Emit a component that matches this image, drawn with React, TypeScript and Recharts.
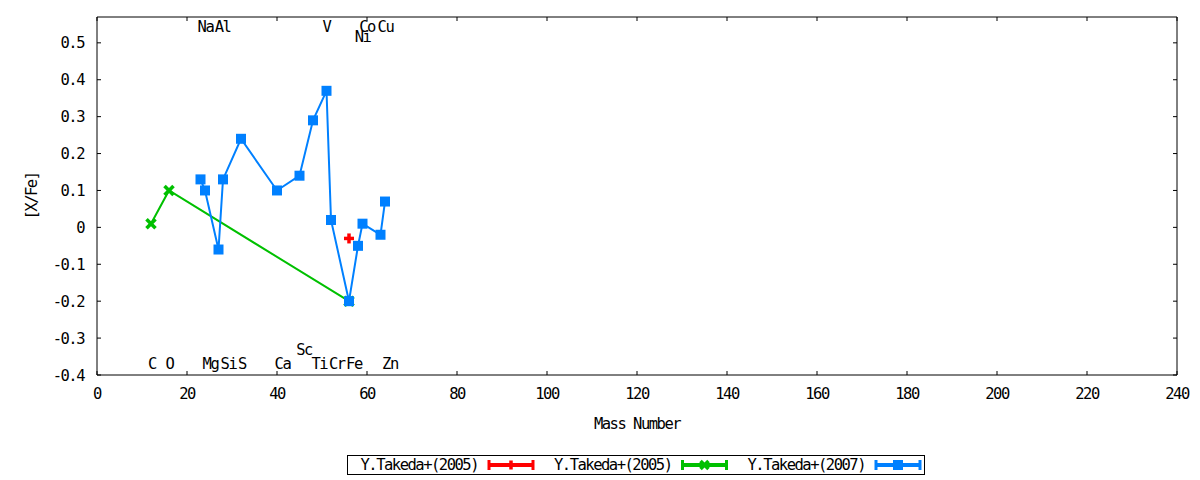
import { Scatter, ScatterChart, XAxis, YAxis } from 'recharts';

// [X/Fe] vs mass number, three abundance sets
const RED_MASS = [56];
const RED_XFE = [-0.03];
const GREEN_MASS = [12, 16, 56];
const GREEN_XFE = [0.01, 0.1, -0.2];
const BLUE_MASS = [23, 24, 27, 28, 32, 40, 45, 48, 51, 52, 56, 58, 59, 63, 64];
const BLUE_XFE = [0.13, 0.1, -0.06, 0.13, 0.24, 0.1, 0.14, 0.29, 0.37, 0.02, -0.2, -0.05, 0.01, -0.02, 0.07];

// element name labels placed in data coordinates
const LABEL_NAMES = ['C', 'O', 'Mg', 'Si', 'S', 'Ca', 'Sc', 'Ti', 'Cr', 'Fe', 'Zn', 'Na', 'Al', 'V', 'Co', 'Cu', 'Ni'];
const LABEL_X = [12.2, 16.1, 25.2, 29.2, 32.2, 41.2, 46.0, 49.4, 53.3, 57.1, 65.1, 24.1, 27.9, 51.0, 60.0, 64.1, 59.0];
const LABEL_Y = [-0.368, -0.368, -0.368, -0.368, -0.368, -0.368, -0.33, -0.368, -0.368, -0.368, -0.368, 0.544, 0.544, 0.544, 0.544, 0.544, 0.517];

const X_TICKS = [0, 20, 40, 60, 80, 100, 120, 140, 160, 180, 200, 220, 240];
const Y_TICKS = [-0.4, -0.3, -0.2, -0.1, 0, 0.1, 0.2, 0.3, 0.4, 0.5];

const LEGEND_LABELS = ['Y.Takeda+(2005)', 'Y.Takeda+(2005)', 'Y.Takeda+(2007)'];

const RED = '#ff0000';
const GREEN = '#00c000';
const BLUE = '#0080ff';
const FONT = "'DejaVu Sans Mono', monospace";
const TXT = { fontFamily: FONT, fontSize: 15.5, letterSpacing: -1.5, fill: '#000' };

const toPoints = (xs: number[], ys: number[]) => xs.map((x, i) => ({ x, y: ys[i] }));
const redData = toPoints(RED_MASS, RED_XFE);
const greenData = toPoints(GREEN_MASS, GREEN_XFE);
const blueData = toPoints(BLUE_MASS, BLUE_XFE);
const labelData = LABEL_NAMES.map((el, i) => ({ x: LABEL_X[i], y: LABEL_Y[i], el }));

const fmtY = (v: number) => (v === 0 ? '0' : v.toFixed(1));

function Plus({ cx, cy, color, r = 5 }: any) {
  return (
    <g stroke={color} strokeWidth={3.5}>
      <line x1={cx - r} x2={cx + r} y1={cy} y2={cy} />
      <line x1={cx} x2={cx} y1={cy - r} y2={cy + r} />
    </g>
  );
}

function Cross({ cx, cy, color, r = 4.5 }: any) {
  return (
    <g stroke={color} strokeWidth={3.5}>
      <line x1={cx - r} x2={cx + r} y1={cy - r} y2={cy + r} />
      <line x1={cx - r} x2={cx + r} y1={cy + r} y2={cy - r} />
    </g>
  );
}

function Square({ cx, cy, color, s = 10 }: any) {
  return <rect x={cx - s / 2} y={cy - s / 2} width={s} height={s} fill={color} />;
}

const bottomTick = ({ x, y, payload }: any) => (
  <g>
    <line x1={x} x2={x} y1={y} y2={y - 4} stroke="#000" />
    <text x={x} y={y + 24} textAnchor="middle" {...TXT}>
      {payload.value}
    </text>
  </g>
);
const topTick = ({ x, y }: any) => <line x1={x} x2={x} y1={y} y2={y + 4} stroke="#000" />;
const leftTick = ({ x, y, payload }: any) => (
  <g>
    <line x1={x} x2={x + 4} y1={y} y2={y} stroke="#000" />
    <text x={x - 13} y={y + 5.5} textAnchor="end" {...TXT}>
      {fmtY(payload.value)}
    </text>
  </g>
);
const rightTick = ({ x, y }: any) => <line x1={x} x2={x - 4} y1={y} y2={y} stroke="#000" />;

const MARKERS = [
  (cx: number, cy: number) => <Plus cx={cx} cy={cy} color={RED} r={4.5} />,
  (cx: number, cy: number) => <Cross cx={cx} cy={cy} color={GREEN} r={4} />,
  (cx: number, cy: number) => <Square cx={cx} cy={cy} color={BLUE} />,
];
const COLORS = [RED, GREEN, BLUE];

function KeyBox() {
  return (
    <svg width={580} height={22} style={{ position: 'absolute', left: 346, top: 454 }}>
      <rect x={1.5} y={1.5} width={577} height={19} fill="#fff" stroke="#000" />
      {LEGEND_LABELS.map((label, i) => {
        const end = 132 + i * 193.5;
        const x0 = end + 11;
        const x1 = x0 + 44;
        const cy = 11;
        return (
          <g key={i}>
            <text x={end} y={cy + 5} textAnchor="end" {...TXT}>
              {label}
            </text>
            <g stroke={COLORS[i]} strokeWidth={4}>
              <line x1={x0} x2={x1} y1={cy} y2={cy} />
            </g>
            <g stroke={COLORS[i]} strokeWidth={3}>
              <line x1={x0} x2={x0} y1={cy - 5} y2={cy + 5} />
              <line x1={x1} x2={x1} y1={cy - 5} y2={cy + 5} />
            </g>
            {MARKERS[i]((x0 + x1) / 2, cy)}
          </g>
        );
      })}
    </svg>
  );
}

export default function App() {
  return (
    <div style={{ position: 'absolute', left: 0, top: 0, width: 1200, height: 480, background: '#fff' }}>
      <ScatterChart width={1200} height={480} margin={{ top: 16, right: 22, bottom: 0, left: 0 }}>
        <XAxis
          dataKey="x"
          type="number"
          domain={[0, 240]}
          ticks={X_TICKS}
          allowDataOverflow
          height={105}
          tickSize={0}
          tickMargin={0}
          tick={bottomTick}
          axisLine={{ stroke: '#000' }}
          tickLine={false}
          label={{ value: 'Mass Number', position: 'insideTop', offset: 43, style: { ...TXT } }}
        />
        <XAxis
          xAxisId="top"
          orientation="top"
          dataKey="x"
          type="number"
          domain={[0, 240]}
          ticks={X_TICKS}
          allowDataOverflow
          height={1}
          tickSize={0}
          tickMargin={0}
          tick={topTick}
          axisLine={{ stroke: '#000' }}
          tickLine={false}
        />
        <YAxis
          dataKey="y"
          type="number"
          domain={[-0.4, 0.57]}
          ticks={Y_TICKS}
          allowDataOverflow
          width={97}
          tickSize={0}
          tickMargin={0}
          tick={leftTick}
          axisLine={{ stroke: '#000' }}
          tickLine={false}
          label={{ value: '[X/Fe]', angle: -90, position: 'insideLeft', offset: 31, style: { ...TXT, textAnchor: 'middle' } }}
        />
        <YAxis
          yAxisId="right"
          orientation="right"
          dataKey="y"
          type="number"
          domain={[-0.4, 0.57]}
          ticks={Y_TICKS}
          allowDataOverflow
          width={1}
          tickSize={0}
          tickMargin={0}
          tick={rightTick}
          axisLine={{ stroke: '#000' }}
          tickLine={false}
        />
        {/* invisible series so the mirrored axes get drawn */}
        <Scatter
          xAxisId="top"
          yAxisId="right"
          data={redData}
          isAnimationActive={false}
          legendType="none"
          shape={() => <g />}
        />
        <Scatter
          data={labelData}
          isAnimationActive={false}
          legendType="none"
          shape={(p: any) => (
            <text x={p.cx} y={p.cy + 5.5} textAnchor="middle" {...TXT}>
              {p.payload.el}
            </text>
          )}
        />
        <Scatter
          name="Y.Takeda+(2005)"
          data={redData}
          isAnimationActive={false}
          shape={(p: any) => <Plus cx={p.cx} cy={p.cy} color={RED} />}
        />
        <Scatter
          name="Y.Takeda+(2005)"
          data={greenData}
          isAnimationActive={false}
          line={{ stroke: GREEN, strokeWidth: 2 }}
          shape={(p: any) => <Cross cx={p.cx} cy={p.cy} color={GREEN} />}
        />
        <Scatter
          name="Y.Takeda+(2007)"
          data={blueData}
          isAnimationActive={false}
          line={{ stroke: BLUE, strokeWidth: 2 }}
          shape={(p: any) => <Square cx={p.cx} cy={p.cy} color={BLUE} />}
        />
      </ScatterChart>
      <KeyBox />
    </div>
  );
}
